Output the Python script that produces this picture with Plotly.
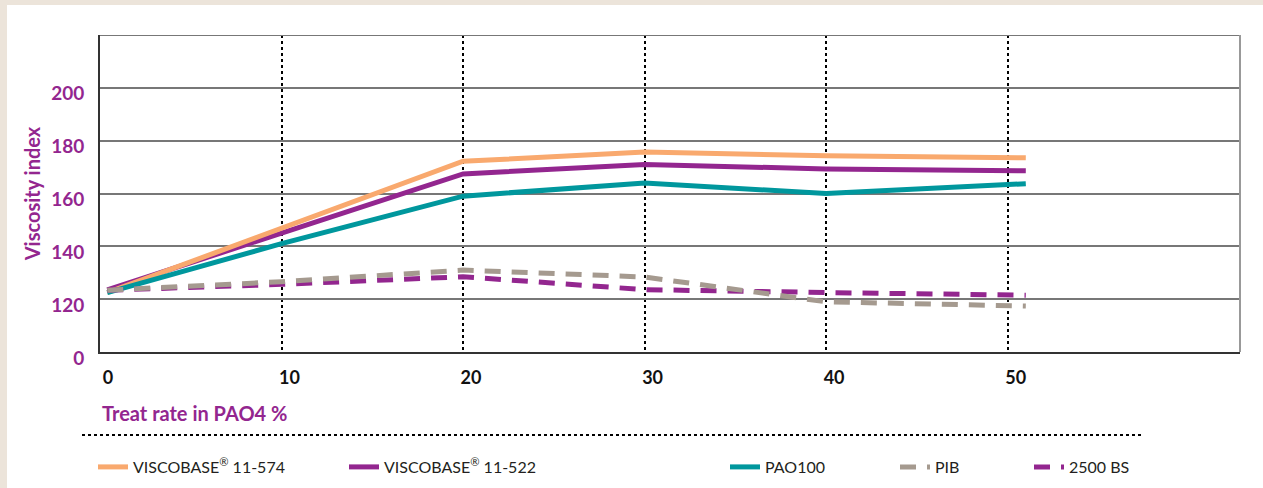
import plotly.graph_objects as go

treat_rate = [0.4, 10, 20, 30, 40, 51]
series_names = ["VISCOBASE<sup>®</sup> 11-574", "VISCOBASE<sup>®</sup> 11-522", "PAO100", "PIB", "2500 BS"]
visc_574 = [122.5, 146.8, 172.2, 175.7, 174.3, 173.5]
visc_522 = [123.5, 145.0, 167.4, 171.0, 169.3, 168.6]
pao100 = [122.5, 141.0, 159.0, 164.0, 160.0, 163.7]
pib = [123.4, 126.6, 131.0, 128.4, 119.0, 117.4]
bs2500 = [123.4, 125.6, 128.5, 123.6, 122.5, 121.5]
x_ticks = [0, 10, 20, 30, 40, 50]
y_tickvals = [100, 120, 140, 160, 180, 200]
y_ticktext = ["0", "120", "140", "160", "180", "200"]

colors = ["#F9A96E", "#93268F", "#00979D", "#A59A8F", "#93268F"]
dashes = ["solid", "solid", "solid", "16px,11px", "16px,11px"]
values = [visc_574, visc_522, pao100, pib, bs2500]
legend_ids = ["legend", "legend2", "legend3", "legend4", "legend5"]
legend_x_px = [93, 344, 725, 895, 1029]
draw_order = [1, 0, 2, 4, 3]

W, H = 1263, 488
L, R, T, B = 100, 23, 35, 136
pw, ph = W - L - R, H - T - B

def px_x(p):
    return (p - L) / pw

def px_y(p):
    return (H - B - p) / ph

fig = go.Figure()
for i in draw_order:
    fig.add_trace(go.Scatter(
        x=treat_rate, y=values[i], mode="lines", name=series_names[i],
        line=dict(color=colors[i], width=5, dash=dashes[i]), legend=legend_ids[i],
    ))

legend_common = dict(
    orientation="h", yanchor="middle", xanchor="left",
    font=dict(family="Lato", size=16, color="#231F20"),
    bgcolor="rgba(0,0,0,0)", borderwidth=0,
)
layout_legends = {}
for lg, xp in zip(legend_ids, legend_x_px):
    layout_legends[lg] = dict(legend_common, x=px_x(xp), y=px_y(467))

purple = "#93268F"
fig.update_layout(
    width=W, height=H,
    margin=dict(l=L, r=R, t=T, b=B, autoexpand=False),
    paper_bgcolor="white", plot_bgcolor="white",
    showlegend=True,
    **layout_legends,
    xaxis=dict(
        range=[0, 62.8], tickvals=x_ticks, ticktext=[f"<b>{v}</b>" for v in x_ticks],
        showgrid=True, gridcolor="black", gridwidth=2, griddash="dot",
        showline=True, linecolor="#333", linewidth=2,
        zeroline=False, ticks="", ticklabelshift=8, ticklabelstandoff=8,
        tickfont=dict(family="Lato", size=18, color="#111"),
        fixedrange=True,
    ),
    yaxis=dict(
        range=[100, 220], tickvals=y_tickvals, ticktext=[f"<b>{t}</b>" for t in y_ticktext],
        showgrid=True, gridcolor="#777", gridwidth=1.5,
        showline=True, linecolor="#333", linewidth=2,
        zeroline=False, ticks="", ticklabelshift=6, ticklabelstandoff=10,
        tickfont=dict(family="Lato", size=19, color=purple),
        title=dict(text="<b>Viscosity index</b>", font=dict(family="Lato", size=20, color=purple), standoff=5),
        fixedrange=True,
    ),
    shapes=[
        dict(type="rect", xref="paper", yref="paper", x0=px_x(0), x1=px_x(W), y0=px_y(0), y1=px_y(5),
             fillcolor="#ECE4DA", line=dict(width=0), layer="below"),
        dict(type="rect", xref="paper", yref="paper", x0=px_x(0), x1=px_x(7), y0=px_y(H), y1=px_y(0),
             fillcolor="#ECE4DA", line=dict(width=0), layer="below"),
        dict(type="line", xref="paper", yref="y", x0=0, x1=1, y0=220, y1=220, line=dict(color="#777", width=2)),
        dict(type="line", xref="paper", yref="paper", x0=1, x1=1, y0=0, y1=1, line=dict(color="#999", width=2)),
        dict(type="line", xref="paper", yref="paper", x0=px_x(82), x1=px_x(1143), y0=px_y(435), y1=px_y(435),
             line=dict(color="black", width=2, dash="dot")),
    ],
    annotations=[
        dict(text="<b>Treat rate in PAO4 %</b>", xref="paper", yref="paper", x=px_x(100), y=px_y(413),
             xanchor="left", yanchor="middle", showarrow=False,
             font=dict(family="Lato", size=20, color=purple)),
    ],
)

fig.write_html("out.html", config={"displayModeBar": False},
               post_script="document.body.style.margin='0px';document.body.style.overflow='hidden';")
